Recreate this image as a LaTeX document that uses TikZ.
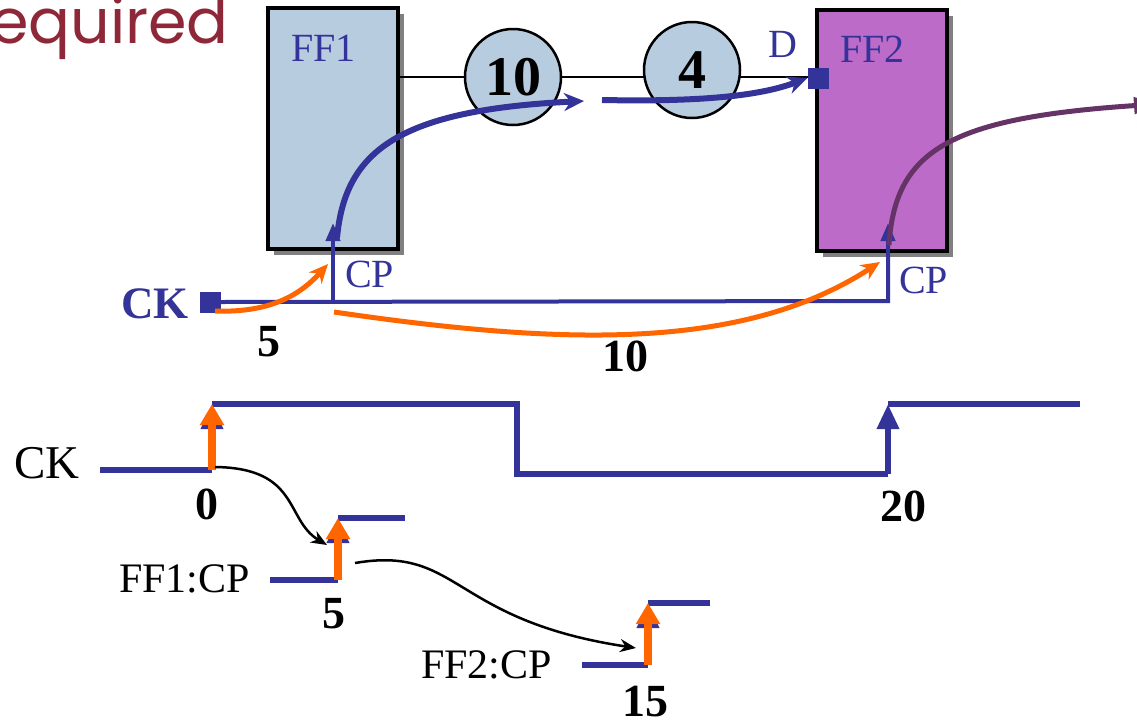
\documentclass[tikz,border=0pt]{standalone}
\usepackage{fontspec}
\setmainfont{Liberation Serif}
\newfontfamily\titlefont{Poppins}
\usetikzlibrary{arrows.meta,shadows}

\definecolor{pinblue}{HTML}{333399}
\definecolor{boxblue}{HTML}{B8CCE0}
\definecolor{boxpurple}{HTML}{BD6BC9}
\definecolor{delayorange}{HTML}{FF6600}
\definecolor{outpurple}{HTML}{663366}
\definecolor{titlered}{HTML}{8E2838}

\tikzset{
  ffbox/.style={draw=black, line width=4pt, minimum width=130pt, minimum height=241pt, inner sep=0pt,
    drop shadow={shadow xshift=6pt, shadow yshift=-6pt, fill=black!50, opacity=1}},
  gate/.style={circle, draw=black, line width=2.5pt, fill=boxblue, minimum size=96pt, inner sep=0pt,
    font=\fontsize{56}{58}\selectfont\bfseries},
  pinlbl/.style={text=pinblue, font=\fontsize{40}{44}\selectfont, inner sep=0pt},
  num/.style={font=\fontsize{46}{50}\selectfont\bfseries, inner sep=0pt},
  sig/.style={font=\fontsize{42}{46}\selectfont, inner sep=0pt},
  wire/.style={line width=4pt, pinblue},
  flow/.style={line width=6pt, pinblue, -{Stealth[length=20pt, width=18pt]}},
  delay/.style={line width=5pt, delayorange, -{Stealth[length=19pt, width=17pt]}},
  wave/.style={line width=6.5pt, pinblue},
  fire/.style={line width=8pt, delayorange, -{Triangle[length=21pt, width=23pt]}},
  cause/.style={line width=2.5pt, black, -{Stealth[length=16pt, width=13pt]}}
}

\begin{document}
\begin{tikzpicture}[x=1pt, y=-1pt]
    \useasboundingbox (0,0) rectangle (1137,726);

    \node[anchor=base east, text=titlered, inner sep=0pt, font=\titlefont\fontsize{62}{64}\selectfont] (title) at (229,43) {required};

    % flip-flops and the data path
    \node[ffbox, fill=boxblue] (ff1) at (333,128) {};
    \node[ffbox, fill=boxpurple] (ff2) at (882,130) {};
    \node[pinlbl, anchor=base west] (ff1lbl) at (291,61) {FF1};
    \node[pinlbl, anchor=base west] (ff2lbl) at (840,62) {FF2};

    \coordinate (q1) at (400,77);
    \coordinate (dpt) at (818,77);
    \draw[line width=2.5pt] (q1) -- (dpt);
    \node[gate] (g10) at (513,77) {10};
    \node[gate] (g4) at (692,70) {4};
    \node[fill=pinblue, minimum size=21pt, inner sep=0pt] (dpin) at (818,78) {};
    \node[pinlbl, anchor=base west] (dlbl) at (768,57) {D};

    % clock net
    \node[fill=pinblue, minimum size=21pt, inner sep=0pt] (ckpin) at (210,302) {};
    \node[anchor=base west, text=pinblue, inner sep=0pt, font=\fontsize{45}{48}\selectfont\bfseries] (cklbl) at (121,318) {CK};
    \coordinate (cp1base) at (333,301);
    \coordinate (cp1tip) at (333,223);
    \coordinate (cp2base) at (888,301);
    \coordinate (cp2tip) at (888,223);
    \draw[wire, -{Triangle[length=18pt, width=14pt]}] (ckpin.east) -- (cp2base) -- (cp2tip);
    \draw[wire, -{Triangle[length=18pt, width=14pt]}] (cp1base) -- (cp1tip);
    \node[pinlbl, anchor=base west] (cp1lbl) at (345,287) {CP};
    \node[pinlbl, anchor=base west] (cp2lbl) at (899,293) {CP};

    % timing paths
    \draw[flow] (337,238) .. controls (345,150) and (400,110) .. (584,101);
    \draw[flow] (602,100) .. controls (700,102) and (760,96) .. (dpin.west);
    \draw[line width=5pt, outpurple, -{Triangle[length=24pt, width=16pt]}] (889,245) .. controls (895,150) and (950,118) .. (1158,104);
    \draw[delay] (215,311) .. controls (270,313) and (300,295) .. (328,264);
    \draw[delay] (334,312) .. controls (560,345) and (742,352) .. (880,262);
    \node[num] (d5) at (269,342) {5};
    \node[num] (d10) at (625,356) {10};

    % waveforms
    \node[sig, anchor=base west, font=\fontsize{47}{50}\selectfont] (cksig) at (14,478) {CK};
    \coordinate (ck0) at (212,470);
    \coordinate (ck20) at (888,474);
    \draw[wave] (100,470) -- (ck0);
    \draw[wave] (212,404) -- (517,404) -- (517,474) -- (ck20);
    \draw[wave] (888,404) -- (1080,404);
    \draw[wave, -{Triangle[length=25pt, width=21pt]}] (ck0) -- (212,404);
    \draw[wave, -{Triangle[length=25pt, width=21pt]}] (ck20) -- (888,404);
    \draw[fire] (ck0) -- (212,404);
    \node[num, anchor=base] (t0) at (207,519) {0};
    \node[num, anchor=base] (t20) at (903,521) {20};

    \node[sig, anchor=base east] (ff1sig) at (250,592) {FF1:CP};
    \coordinate (ff1edge) at (338,580);
    \draw[wave] (270,580) -- (ff1edge);
    \draw[wave] (338,518) -- (405,518);
    \draw[wave, -{Triangle[length=25pt, width=21pt]}] (ff1edge) -- (338,518);
    \draw[fire] (ff1edge) -- (338,518);
    \node[num, anchor=base] (t5) at (334,628) {5};

    \node[sig, anchor=base east] (ff2sig) at (552,678) {FF2:CP};
    \coordinate (ff2edge) at (648,665);
    \draw[wave] (582,665) -- (ff2edge);
    \draw[wave] (648,603) -- (710,603);
    \draw[wave, -{Triangle[length=25pt, width=21pt]}] (ff2edge) -- (648,603);
    \draw[fire] (ff2edge) -- (648,603);
    \node[num, anchor=base] (t15) at (645,716) {15};

    \draw[cause] (215,467) .. controls (300,468) and (285,520) .. (327,545);
    \draw[cause] (355,563) .. controls (460,545) and (450,620) .. (636,648);
\end{tikzpicture}
\end{document}
